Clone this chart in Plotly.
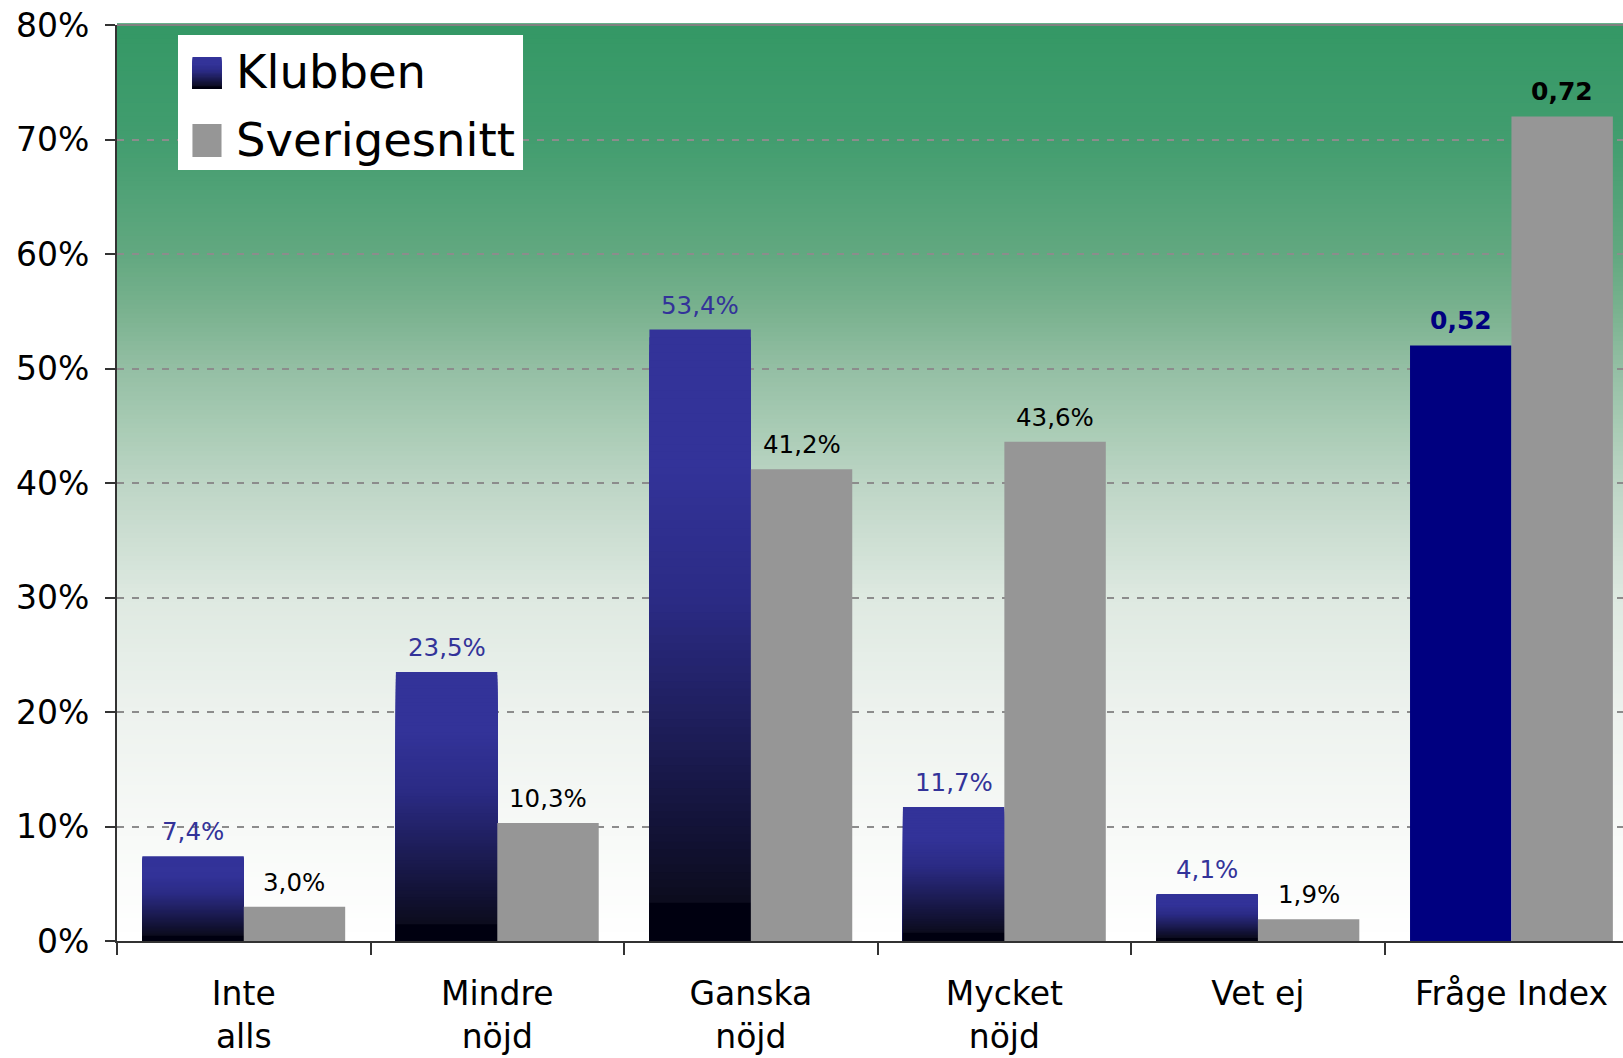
import plotly.graph_objects as go

# ---------------- data ----------------
categories = ["Inte<br>alls", "Mindre<br>nöjd", "Ganska<br>nöjd", "Mycket<br>nöjd", "Vet ej", "Fråge Index"]
klubben_pct = [7.4, 23.5, 53.4, 11.7, 4.1]          # % (first five categories)
sverige_pct = [3.0, 10.3, 41.2, 43.6, 1.9]          # %
index_klubben = 0.52
index_sverige = 0.72
y_ticks = [0, 0.1, 0.2, 0.3, 0.4, 0.5, 0.6, 0.7, 0.8]
series_names = ["Klubben", "Sverigesnitt"]

# ---------------- style ----------------
FONT = "DejaVu Sans"
GREY = "#969696"
NAVY = "#000080"
KLUB_LABEL = "#333399"

# gradient of Klubben bars (fraction of bar height -> color)
bar_stops = [
    (0.0, (0, 0, 16)), (0.066, (0, 0, 16)), (0.067, (12, 12, 30)),
    (0.19, (19, 19, 56)), (0.37, (31, 31, 94)), (0.56, (43, 43, 133)),
    (0.78, (51, 51, 153)), (1.0, (51, 51, 153)),
]
# plot background gradient (fraction of plot height from bottom -> color)
bg_stops = [
    (0.0, (255, 255, 255)), (0.125, (247, 249, 247)), (0.25, (237, 242, 238)),
    (0.375, (222, 233, 225)), (0.5, (189, 213, 197)), (0.5625, (168, 203, 180)),
    (0.625, (148, 191, 164)), (0.6875, (122, 178, 143)), (0.75, (98, 168, 128)),
    (0.875, (66, 157, 111)), (1.0, (52, 152, 101)),
]


def interp(stops, t):
    for (t0, c0), (t1, c1) in zip(stops[:-1], stops[1:]):
        if t0 <= t <= t1:
            f = 0 if t1 == t0 else (t - t0) / (t1 - t0)
            c = [round(a + (b - a) * f) for a, b in zip(c0, c1)]
            return f"rgb({c[0]},{c[1]},{c[2]})"
    c = stops[-1][1]
    return f"rgb({c[0]},{c[1]},{c[2]})"


fig = go.Figure()

klub = [v / 100 for v in klubben_pct]
sver = [v / 100 for v in sverige_pct] + [index_sverige]

# Klubben bars: nested bars from the baseline, tallest first, to form a vertical gradient
N = 80
for k in range(N - 1, -1, -1):
    fig.add_trace(go.Bar(
        x=categories[:5], y=[v * (k + 1) / N for v in klub],
        offsetgroup="k", marker=dict(color=interp(bar_stops, (k + 0.5) / N), line=dict(width=0)),
        showlegend=False, hoverinfo="skip",
    ))
fig.add_trace(go.Bar(
    x=[categories[5]], y=[index_klubben], offsetgroup="k",
    marker=dict(color=NAVY, line=dict(width=0)), name=series_names[0], showlegend=False,
))
fig.add_trace(go.Bar(
    x=categories, y=sver, offsetgroup="s",
    marker=dict(color=GREY, line=dict(width=0)), name=series_names[1], showlegend=False,
))

shapes = []
# background gradient bands
NB = 200
for j in range(NB):
    shapes.append(dict(type="rect", xref="paper", yref="paper", x0=0, x1=1,
                       y0=j / NB, y1=(j + 1) / NB + 0.002, layer="below",
                       line=dict(width=0), fillcolor=interp(bg_stops, (j + 0.5) / NB)))
# top border of plot area
shapes.append(dict(type="line", xref="paper", yref="paper", x0=0, x1=1, y0=1, y1=1,
                   line=dict(color="#808080", width=2), layer="above"))

annotations = []
LBL = 24.5
# value labels
for i, v in enumerate(klub):
    annotations.append(dict(x=i - 0.2, y=v, xref="x", yref="y", yanchor="bottom", yshift=8,
                            text=f"{klubben_pct[i]:.1f}".replace(".", ",") + "%", showarrow=False,
                            font=dict(family=FONT, size=LBL, color=KLUB_LABEL)))
for i, v in enumerate(sverige_pct):
    annotations.append(dict(x=i + 0.2, y=v / 100, xref="x", yref="y", yanchor="bottom", yshift=8,
                            text=f"{v:.1f}".replace(".", ",") + "%", showarrow=False,
                            font=dict(family=FONT, size=LBL, color="black")))
annotations.append(dict(x=5 - 0.2, y=index_klubben, xref="x", yref="y", yanchor="bottom", yshift=9,
                        text=f"<b>{index_klubben:.2f}</b>".replace(".", ","), showarrow=False,
                        font=dict(family=FONT, size=25, color=NAVY)))
annotations.append(dict(x=5 + 0.2, y=index_sverige, xref="x", yref="y", yanchor="bottom", yshift=9,
                        text=f"<b>{index_sverige:.2f}</b>".replace(".", ","), showarrow=False,
                        font=dict(family=FONT, size=25, color="black")))

# custom legend
shapes.append(dict(type="rect", xref="paper", yref="paper", x0=0.0405, x1=0.2696,
                   y0=0.8417, y1=0.989, fillcolor="white", line=dict(width=0), layer="above"))
NS = 24
ky0, ky1 = 0.9301, 0.9651
for k in range(NS - 1, -1, -1):
    shapes.append(dict(type="rect", xref="paper", yref="paper", x0=0.0501, x1=0.0694,
                       y0=ky0, y1=ky0 + (ky1 - ky0) * (k + 1) / NS,
                       fillcolor=interp(bar_stops, (k + 0.5) / NS), line=dict(width=0), layer="above"))
shapes.append(dict(type="rect", xref="paper", yref="paper", x0=0.0501, x1=0.0694,
                   y0=0.8559, y1=0.8919, fillcolor=GREY, line=dict(width=0), layer="above"))
annotations.append(dict(x=0.0777, y=0.9487, xref="paper", yref="paper", xanchor="left", yanchor="middle",
                        text=series_names[0], showarrow=False, font=dict(family=FONT, size=46.5, color="black")))
annotations.append(dict(x=0.0777, y=0.8745, xref="paper", yref="paper", xanchor="left", yanchor="middle",
                        text=series_names[1], showarrow=False, font=dict(family=FONT, size=46.5, color="black")))

fig.update_layout(
    width=1623, height=1058,
    margin=dict(l=117, r=0, t=25, b=117),
    paper_bgcolor="white", plot_bgcolor="white",
    barmode="group", bargap=0.2, bargroupgap=0,
    shapes=shapes, annotations=annotations,
    font=dict(family=FONT, color="black"),
    showlegend=False,
)
fig.update_xaxes(
    type="category", categoryorder="array", categoryarray=categories,
    range=[-0.5, 5.44], tickson="boundaries", ticks="outside", ticklen=12, tickwidth=1.5,
    tickcolor="#333333", showline=True, linecolor="#333333", linewidth=2, showgrid=False,
    tickfont=dict(family=FONT, size=33, color="black"), ticklabelstandoff=22,
)
fig.update_yaxes(
    range=[0, 0.8], tickvals=y_ticks, tickformat=".0%", ticks="outside", ticklen=10, tickwidth=1.5,
    tickcolor="#333333", showline=True, linecolor="#333333", linewidth=2, zeroline=False,
    showgrid=True, gridcolor="#8c8c8c", gridwidth=1.5, griddash="7px,8px",
    tickfont=dict(family=FONT, size=33, color="black"), ticklabelstandoff=9,
)

fig.write_html("out.html", config={"displayModeBar": False},
               post_script="document.body.style.margin='0';")
